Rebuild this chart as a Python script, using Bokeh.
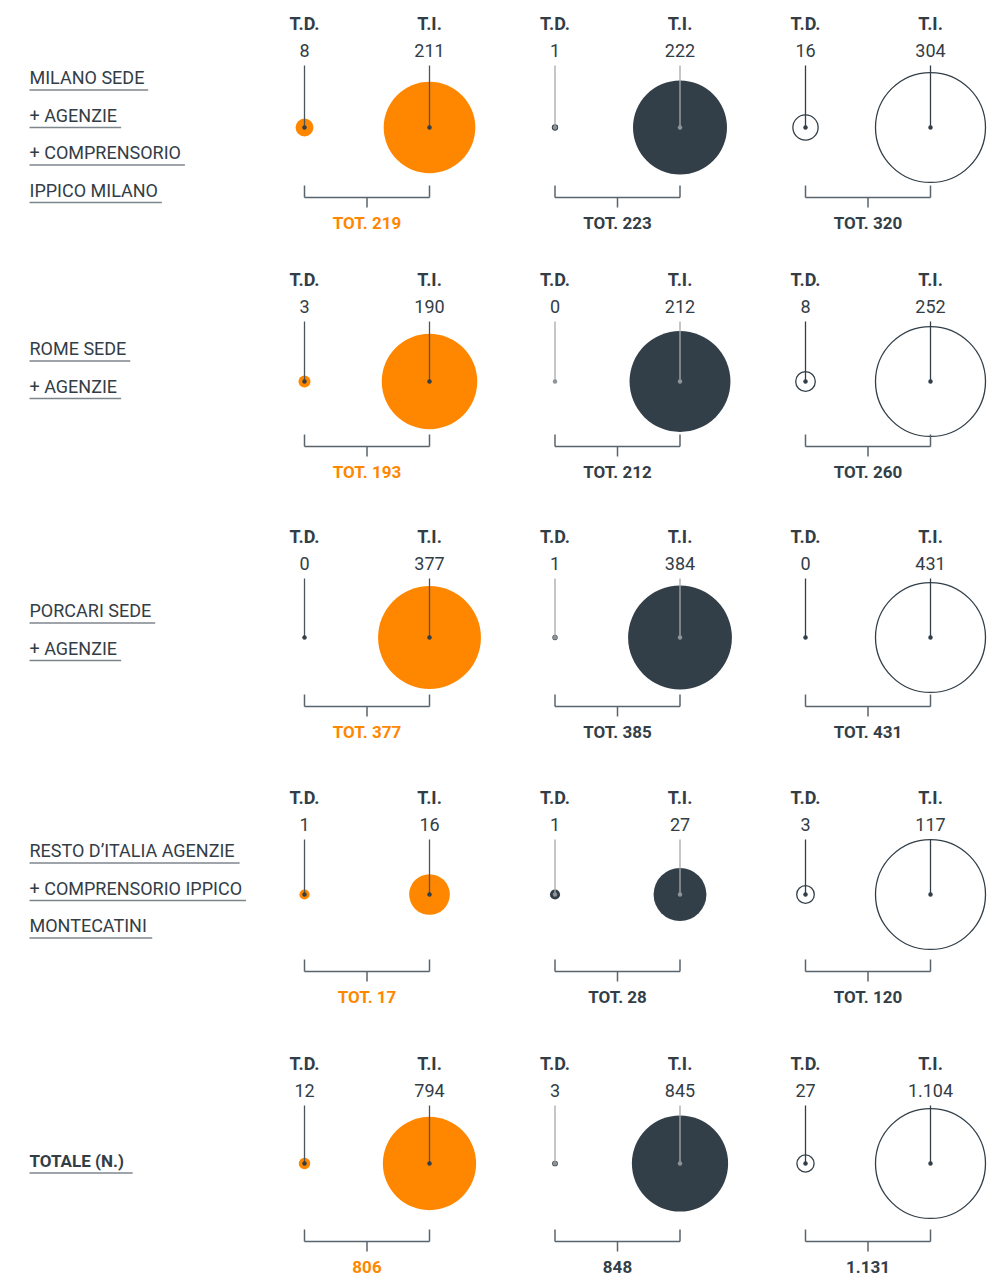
import math
from bokeh.plotting import figure
from bokeh.models import Range1d
from bokeh.core.properties import value
from bokeh.embed import file_html
from bokeh.resources import INLINE

# ---------------- data ----------------
row_labels = [
    ["MILANO SEDE", "+ AGENZIE", "+ COMPRENSORIO", "IPPICO MILANO"],
    ["ROME SEDE", "+ AGENZIE"],
    ["PORCARI SEDE", "+ AGENZIE"],
    ["RESTO D\u2019ITALIA AGENZIE", "+ COMPRENSORIO IPPICO", "MONTECATINI"],
    ["TOTALE (N.)"],
]
row_label_bold = [False, False, False, False, True]

series = ["orange", "dark", "outline"]
td_values = {
    "orange": [8, 3, 0, 1, 12],
    "dark": [1, 0, 1, 1, 3],
    "outline": [16, 8, 0, 3, 27],
}
ti_values = {
    "orange": [211, 190, 377, 16, 794],
    "dark": [222, 212, 384, 27, 845],
    "outline": [304, 252, 431, 117, 1104],
}
header_td = "T.D."
header_ti = "T.I."
tot_prefix = ["TOT. ", "TOT. ", "TOT. ", "TOT. ", ""]

# ---------------- style / layout ----------------
ORANGE = "#ff8700"
DARK = "#333f48"
TEXT = "#333d46"
GRAYLINE = "#a4a9ae"
BRACKET = "#5a646d"
ULINE = "#7e868d"
FONT = "Roboto"

W, H = 992, 1279
X0, Y0 = 0, 0
row_cy = [127, 381, 637, 894, 1163]
row_head = [23, 279, 536, 797, 1063]
row_brk = [197, 446, 706, 971, 1241]
label_first = [77, 348, 610, 850, 1160]
label_step = 37.5
label_x = 29
col_td_x = [304, 554.5, 805]
pair_dx = 125
max_r = 55

fill_of = {"orange": ORANGE, "dark": DARK, "outline": "white"}
stem_of = {"orange": "#4b555e", "dark": GRAYLINE, "outline": DARK}
dot_of = {"orange": DARK, "dark": "#8d9399", "outline": DARK}
tot_color = {"orange": ORANGE, "dark": DARK, "outline": DARK}

# approximate Roboto advance widths (em) used to size the underlines
AW = {"A": .652, "B": .638, "C": .652, "D": .655, "E": .568, "F": .552, "G": .682,
      "H": .713, "I": .272, "L": .539, "M": .873, "N": .713, "O": .688, "P": .631,
      "R": .616, "S": .593, "T": .597, "U": .648, "Z": .600, " ": .248, "+": .567,
      "\u2019": .200, "(": .342, ")": .348, ".": .263}


def est_width(s, size, bold=False):
    w = sum(AW.get(ch, 0.62) for ch in s) * size
    return w * (1.05 if bold else 1.0)


def fmt(v):
    return f"{v:,}".replace(",", ".")


p = figure(width=W, height=H, x_range=Range1d(X0, X0 + W), y_range=Range1d(Y0 + H, Y0),
           output_backend="svg", toolbar_location=None, min_border=0)
p.axis.visible = False
p.grid.visible = False
p.outline_line_color = None
p.background_fill_color = "white"
p.border_fill_color = "white"

LABEL_SIZE = 18

for r in range(5):
    cy = row_cy[r]
    rowmax = max(max(ti_values[s][r], td_values[s][r]) for s in series)
    # row labels with underline
    for i, txt in enumerate(row_labels[r]):
        y = label_first[r] + i * label_step
        bold = row_label_bold[r]
        size = LABEL_SIZE - (1 if bold else 0)
        p.text(x=[label_x], y=[y], text=[txt], text_font=value(FONT),
               text_font_size=f"{size}px", text_color=TEXT,
               text_font_style="bold" if bold else "normal",
               text_align="left", text_baseline="middle")
        wlen = est_width(txt, size, bold) + 4
        p.segment(x0=[label_x], y0=[y + 12.5], x1=[label_x + wlen], y1=[y + 12.5],
                  line_color=ULINE, line_width=1.6)

    for c, s in enumerate(series):
        xtd = col_td_x[c]
        xti = xtd + pair_dx
        td = td_values[s][r]
        ti = ti_values[s][r]
        xs = [xtd, xti]
        vals = [td, ti]
        radii = [max_r * math.sqrt(v / rowmax) for v in vals]
        # circles
        for x, rad in zip(xs, radii):
            if rad > 0:
                if s == "outline":
                    p.scatter(x=[x], y=[cy], size=2 * rad, marker="circle",
                              fill_color="white", line_color=DARK, line_width=1.3)
                else:
                    p.scatter(x=[x], y=[cy], size=2 * rad, marker="circle",
                              fill_color=fill_of[s], line_color=None)
        # headers and numbers
        hy = row_head[r]
        p.text(x=xs, y=[hy, hy], text=[header_td, header_ti], text_font=value(FONT),
               text_font_size="18px", text_font_style="bold", text_color=TEXT,
               text_align="center", text_baseline="middle")
        p.text(x=xs, y=[hy + 27, hy + 27], text=[fmt(td), fmt(ti)], text_font=value(FONT),
               text_font_size="18px", text_color=TEXT,
               text_align="center", text_baseline="middle")
        # stems
        p.segment(x0=xs, y0=[hy + 42, hy + 42], x1=xs, y1=[cy, cy],
                  line_color=stem_of[s], line_width=1.3)
        # center dots
        p.scatter(x=xs, y=[cy, cy], size=4.5, marker="circle",
                  fill_color=dot_of[s], line_color=None)
        # bracket
        by = row_brk[r]
        xm = (xtd + xti) / 2
        p.segment(x0=[xtd, xtd, xti, xm], y0=[by, by - 12, by - 12, by],
                  x1=[xti, xtd, xti, xm], y1=[by, by, by, by + 10],
                  line_color=BRACKET, line_width=1.5)
        p.text(x=[xm], y=[by + 25], text=[tot_prefix[r] + fmt(td + ti)],
               text_font=value(FONT), text_font_size="17px", text_font_style="bold",
               text_color=tot_color[s], text_align="center", text_baseline="middle")

open("out.html", "w").write(file_html(p, INLINE))
